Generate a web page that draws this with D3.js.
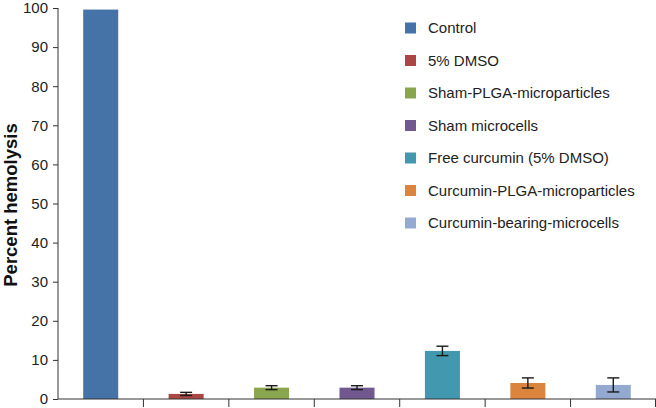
<!DOCTYPE html>
<html>
<head>
<meta charset="utf-8">
<script src="https://cdn.jsdelivr.net/npm/d3@7"></script>
<style>
  html, body { margin: 0; padding: 0; background: #fff; }
  svg { display: block; font-family: "Liberation Sans", Arial, sans-serif; }
</style>
</head>
<body>
<svg id="chart" width="656" height="408"></svg>
<script>
const categories = ["Control", "5% DMSO", "Sham-PLGA-microparticles", "Sham microcells",
  "Free curcumin (5% DMSO)", "Curcumin-PLGA-microparticles", "Curcumin-bearing-microcells"];
const values = [99.6, 1.3, 2.9, 2.9, 12.3, 4.1, 3.6];
const errors = [0, 0.4, 0.5, 0.5, 1.2, 1.3, 1.8];
const colors = ["#4572A7", "#AA4643", "#89A54E", "#71588F", "#4198AF", "#DB843D", "#93A9CF"];
const yTicks = [0, 10, 20, 30, 40, 50, 60, 70, 80, 90, 100];
const yTitle = "Percent hemolysis";

const svg = d3.select("#chart");
const mLeft = 58, mRight = 656, mTop = 8, mBottom = 399;

const x = d3.scaleBand().domain(categories).range([mLeft, mRight]).paddingInner(0).paddingOuter(0);
const y = d3.scaleLinear().domain([0, 100]).range([mBottom, mTop]);
const barW = x.bandwidth() * 0.41;

// bars
svg.append("g").selectAll("rect").data(categories).join("rect")
  .attr("x", (d) => x(d) + x.bandwidth() / 2 - barW / 2)
  .attr("y", (d, i) => y(values[i]))
  .attr("width", barW)
  .attr("height", (d, i) => y(0) - y(values[i]))
  .attr("fill", (d, i) => colors[i]);

// error bars
const eg = svg.append("g").attr("stroke", "#1a1a1a").attr("stroke-width", 1.4);
categories.forEach((c, i) => {
  if (!errors[i]) return;
  const cx = x(c) + x.bandwidth() / 2;
  const y1 = y(values[i] + errors[i]), y2 = y(values[i] - errors[i]);
  eg.append("line").attr("x1", cx).attr("x2", cx).attr("y1", y1).attr("y2", y2);
  eg.append("line").attr("x1", cx - 6).attr("x2", cx + 6).attr("y1", y1).attr("y2", y1);
  eg.append("line").attr("x1", cx - 6).attr("x2", cx + 6).attr("y1", y2).attr("y2", y2);
});

// y axis
const yAxis = svg.append("g").attr("transform", `translate(${mLeft},0)`)
  .call(d3.axisLeft(y).tickValues(yTicks).tickSize(5).tickPadding(5).tickFormat(d3.format("d")));
yAxis.select(".domain").attr("stroke", "#333").attr("d", `M0,${mBottom}V${mTop}`);
yAxis.selectAll(".tick line").attr("stroke", "#333");
yAxis.selectAll(".tick text").attr("font-size", 15).attr("fill", "#222")
  .attr("font-family", "Liberation Sans, Arial, sans-serif");

// x axis
const xAxis = svg.append("g").attr("transform", `translate(0,${mBottom})`)
  .call(d3.axisBottom(x).tickSize(0).tickFormat(""));
xAxis.select(".domain").attr("stroke", "#333").attr("d", `M${mLeft},0H${mRight}`);
const bounds = categories.slice(1).map((c) => x(c)).concat([mRight - 0.5]);
xAxis.selectAll(".sep").data(bounds).join("line").attr("class", "sep")
  .attr("x1", (d) => d).attr("x2", (d) => d).attr("y1", 0).attr("y2", 8)
  .attr("stroke", "#333");

// y title
svg.append("text")
  .attr("transform", "translate(17,205) rotate(-90)")
  .attr("text-anchor", "middle")
  .attr("font-size", 18.5).attr("font-weight", "bold").attr("fill", "#111")
  .text(yTitle);

// legend
const lg = svg.append("g");
categories.forEach((c, i) => {
  const cy = 28 + i * 32.5;
  lg.append("rect").attr("x", 405).attr("y", cy - 5.5).attr("width", 11).attr("height", 11)
    .attr("fill", colors[i]);
  lg.append("text").attr("x", 428).attr("y", cy).attr("dy", "0.36em")
    .attr("font-size", 15).attr("fill", "#222").text(c);
});
</script>
</body>
</html>
